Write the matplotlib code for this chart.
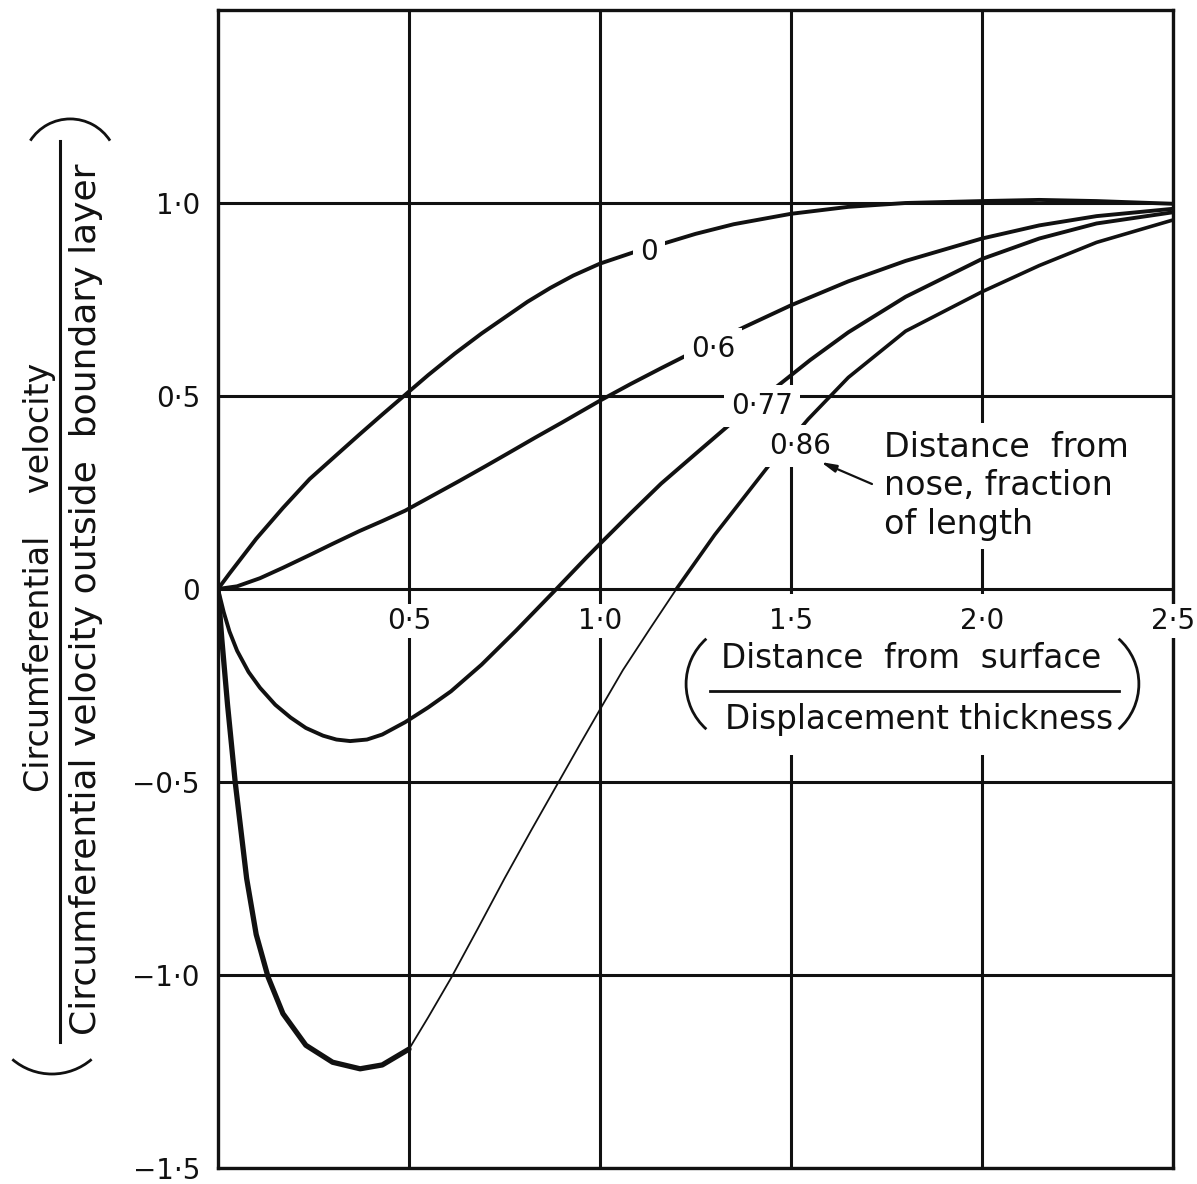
"""
Circumferential velocity profiles in the boundary layer at several stations
along the body (distance from nose as fraction of length).
"""
import numpy as np
import matplotlib
matplotlib.use('Agg')
import matplotlib.pyplot as plt
from matplotlib.patches import Arc, Rectangle

# values
x_0 = [0, 0.03, 0.1, 0.17, 0.24, 0.31, 0.37, 0.43, 0.49, 0.55, 0.62, 0.69, 0.75, 0.81,
       0.87, 0.93, 1.0, 1.09, 1.17, 1.25, 1.35, 1.5, 1.65, 1.8, 2.0, 2.15, 2.3, 2.5]
y_0 = [0, 0.04, 0.13, 0.21, 0.285, 0.347, 0.4, 0.452, 0.503, 0.554, 0.61, 0.662, 0.703, 0.744,
       0.78, 0.812, 0.843, 0.873, 0.896, 0.92, 0.945, 0.972, 0.99, 1.0, 1.005, 1.008, 1.005, 0.998]

x_06 = [0, 0.05, 0.11, 0.17, 0.24, 0.3, 0.37, 0.43, 0.49, 0.56, 0.63, 0.7, 0.76, 0.83,
        0.9, 1.0, 1.08, 1.16, 1.22, 1.3, 1.37, 1.5, 1.65, 1.8, 2.0, 2.15, 2.3, 2.5]
y_06 = [0, 0.007, 0.028, 0.055, 0.088, 0.117, 0.15, 0.176, 0.203, 0.241, 0.279, 0.318, 0.352, 0.392,
        0.431, 0.488, 0.531, 0.572, 0.602, 0.641, 0.675, 0.735, 0.797, 0.85, 0.908, 0.942, 0.966, 0.985]

x_077 = [0, 0.005, 0.015, 0.03, 0.05, 0.08, 0.11, 0.15, 0.19, 0.23, 0.275, 0.31, 0.346, 0.39,
         0.43, 0.49, 0.55, 0.61, 0.69, 0.78, 0.88, 0.965, 1.0, 1.08, 1.16, 1.25, 1.35, 1.47,
         1.55, 1.65, 1.8, 2.0, 2.15, 2.3, 2.5]
y_077 = [0, -0.02, -0.06, -0.11, -0.16, -0.215, -0.256, -0.3, -0.333, -0.36, -0.38, -0.39, -0.394,
         -0.39, -0.377, -0.345, -0.307, -0.265, -0.196, -0.108, -0.006, 0.082, 0.117, 0.196, 0.273,
         0.35, 0.435, 0.53, 0.593, 0.665, 0.757, 0.855, 0.908, 0.947, 0.976]

x_086 = [0, 0.01, 0.025, 0.045, 0.075, 0.1, 0.131, 0.17, 0.23, 0.3, 0.372, 0.43, 0.5, 0.55,
         0.61, 0.68, 0.75, 0.82, 0.887, 0.95, 1.0, 1.06, 1.13, 1.2, 1.3, 1.45, 1.545, 1.65,
         1.8, 2.0, 2.15, 2.3, 2.5]
y_086 = [0, -0.13, -0.3, -0.5, -0.75, -0.895, -1.005, -1.1, -1.182, -1.226, -1.243, -1.233,
         -1.192, -1.11, -1.008, -0.88, -0.75, -0.625, -0.508, -0.398, -0.312, -0.21, -0.104, 0.0,
         0.14, 0.33, 0.44, 0.548, 0.668, 0.77, 0.838, 0.898, 0.956]

curve_labels = ['0', '0·6', '0·77', '0·86']

x_ticks = [0.5, 1.0, 1.5, 2.0, 2.5]
x_ticklabels = ['0·5', '1·0', '1·5', '2·0', '2·5']
y_ticks = [-1.5, -1.0, -0.5, 0, 0.5, 1.0]
y_ticklabels = ['−1·5', '−1·0', '−0·5', '0', '0·5', '1·0']

INK = '#111111'
WHITE_BOX = dict(boxstyle='square,pad=0.25', fc='white', ec='none')

fig = plt.figure(figsize=(11.97, 11.84), dpi=100)
ax = fig.add_axes([218/1197, 16/1184, 955/1197, 1158/1184])
ax.set_xlim(0, 2.5)
ax.set_ylim(-1.5, 1.5)

ax.set_xticks(x_ticks)
ax.set_yticks(y_ticks)
ax.set_yticklabels(y_ticklabels)
ax.tick_params(axis='both', length=0, labelsize=20, pad=13, colors=INK)
ax.tick_params(axis='x', labelbottom=False)
ax.set_axisbelow(True)
ax.grid(True, color=INK, lw=2.2)
for sp in ax.spines.values():
    sp.set_linewidth(2.4)
    sp.set_color(INK)

# curves
ax.plot(x_0, y_0, color=INK, lw=2.8, zorder=2, solid_capstyle='round', solid_joinstyle='round')
ax.plot(x_06, y_06, color=INK, lw=2.8, zorder=2, solid_capstyle='round', solid_joinstyle='round')
ax.plot(x_077, y_077, color=INK, lw=2.8, zorder=2, solid_capstyle='round', solid_joinstyle='round')
x86 = np.array(x_086)
y86 = np.array(y_086)
thick = x86 <= 0.5
thin = (x86 >= 0.5) & (x86 <= 1.2)
rest = x86 >= 1.2
ax.plot(x86[thick], y86[thick], color=INK, lw=3.8, zorder=2, solid_capstyle='round',
        solid_joinstyle='round')
ax.plot(x86[thin], y86[thin], color=INK, lw=1.3, zorder=2)
ax.plot(x86[rest], y86[rest], color=INK, lw=2.6, zorder=2, solid_capstyle='round',
        solid_joinstyle='round')

# curve labels, sitting in gaps of the lines
for s, lx, ly in zip(curve_labels, [1.128, 1.296, 1.424, 1.524], [0.872, 0.622, 0.474, 0.37]):
    ax.text(lx, ly, s, fontsize=20, ha='center', va='center', color=INK,
            bbox=WHITE_BOX, zorder=4)

# x tick labels drawn inside the frame, just below the zero line
for v, s in zip(x_ticks, x_ticklabels):
    ax.text(v, -0.083, s, fontsize=20, ha='center', va='center', color=INK,
            bbox=dict(boxstyle='square,pad=0.12', fc='white', ec='none'), zorder=4)

# note with arrow
ax.text(1.743, 0.267, 'Distance  from\nnose, fraction\nof length', fontsize=24,
        ha='left', va='center', linespacing=1.2, color=INK,
        bbox=dict(boxstyle='square,pad=0.25', fc='white', ec='none'), zorder=4)
ax.annotate('', xy=(1.578, 0.329), xytext=(1.712, 0.272),
            arrowprops=dict(arrowstyle='-|>,head_length=0.9,head_width=0.22', color=INK,
                            lw=1.6, shrinkA=0, shrinkB=0), zorder=4)

# x axis label: (Distance from surface / Displacement thickness) inside the frame
ax.add_patch(Rectangle((1.23, -0.43), 1.22, 0.418, fc='white', ec='none', zorder=1.5))
ax.text(1.815, -0.18, 'Distance  from  surface', fontsize=23.5, ha='center', va='center',
        color=INK, zorder=4)
ax.text(1.835, -0.337, 'Displacement thickness', fontsize=23.5, ha='center', va='center',
        color=INK, zorder=4)
ax.plot([1.288, 2.359], [-0.264, -0.264], color=INK, lw=2.0, zorder=4)
r = 60.6
ax.add_patch(Arc((1.384, -0.246), 2*r/382, 2*r/386, theta1=132, theta2=228,
                 color=INK, lw=2.0, zorder=4))
ax.add_patch(Arc((2.252, -0.246), 2*r/382, 2*r/386, theta1=-48, theta2=48,
                 color=INK, lw=2.0, zorder=4))

# y axis label, rotated fraction left of the frame
ax.text(-0.466, 0.031, 'Circumferential    velocity', fontsize=24, rotation=90,
        ha='center', va='center', color=INK, clip_on=False)
ax.text(-0.3455, -0.026, 'Circumferential velocity outside  boundary layer', fontsize=26,
        rotation=90, ha='center', va='center', color=INK, clip_on=False)
ax.plot([-0.4136, -0.4136], [1.161, -1.174], color=INK, lw=2.2, clip_on=False)
r1 = 47.4
ax.add_patch(Arc((-0.387, 1.095), 2*r1/382, 2*r1/386, theta1=32.5, theta2=147.5,
                 color=INK, lw=2.0, clip_on=False))
r2 = 60.8
ax.add_patch(Arc((-0.4346, -1.099), 2*r2/382, 2*r2/386, theta1=229, theta2=311,
                 color=INK, lw=2.0, clip_on=False))

plt.savefig('out.png', dpi=100)
